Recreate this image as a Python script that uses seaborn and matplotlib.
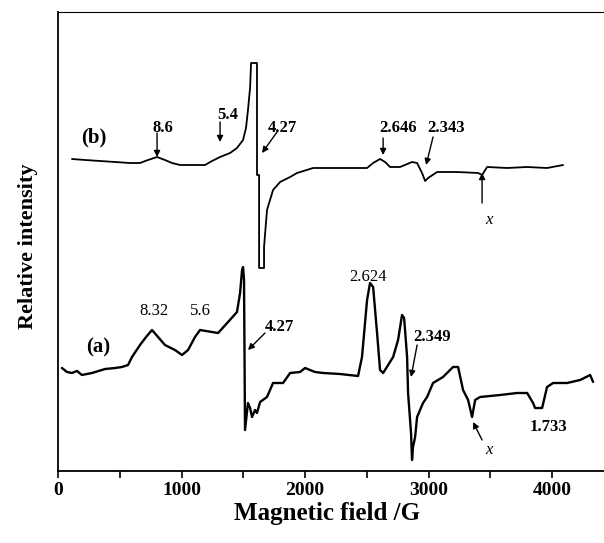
import numpy as np
import pandas as pd
import matplotlib
matplotlib.use("Agg")
import matplotlib.pyplot as plt
import seaborn as sns

# Spectrum (b): field in G, relative intensity (arbitrary units)
field_b = [113, 219, 340, 462, 583, 664, 729, 802, 866, 923, 988, 1085, 1190,
           1247, 1312, 1393, 1449, 1498, 1522, 1538, 1555, 1563, 1611, 1611,
           1628, 1628, 1668, 1668, 1692, 1741, 1798, 1879, 1935, 2065, 2202,
           2364, 2502, 2551, 2607, 2648, 2688, 2769, 2866, 2907, 2947, 2972,
           2996, 3069, 3231, 3401, 3433, 3474, 3636, 3797, 3959, 4089]
inten_b = [312, 311, 310, 309, 308, 308, 311, 314, 311, 308, 306, 306, 306,
           310, 314, 318, 323, 331, 343, 361, 383, 408, 408, 296,
           296, 203, 203, 224, 261, 281, 289, 294, 298, 303, 303,
           303, 303, 308, 312, 309, 304, 304, 309, 308, 298, 290,
           293, 299, 299, 298, 296, 304, 303, 304, 303, 306]

# Spectrum (a)
field_a = [32, 73, 113, 154, 194, 275, 381, 462, 518, 567, 599, 664, 713, 761,
           810, 866, 947, 1004, 1053, 1109, 1150, 1198, 1247, 1296, 1377, 1449,
           1474, 1490, 1498, 1506, 1514, 1538, 1555, 1571, 1595, 1611, 1636,
           1692, 1741, 1822, 1879, 1960, 2000, 2081, 2146, 2283, 2429, 2461,
           2502, 2526, 2551, 2583, 2607, 2632, 2713, 2753, 2785, 2802, 2826,
           2834, 2858, 2866, 2874, 2891, 2907, 2955, 2988, 3036, 3117, 3198,
           3239, 3279, 3320, 3352, 3377, 3417, 3498, 3579, 3717, 3798, 3846,
           3862, 3919, 3959, 4008, 4121, 4227, 4308, 4332]
inten_a = [103, 99, 98, 100, 96, 98, 102, 103, 104, 106, 114, 126, 134, 141,
           134, 126, 121, 116, 121, 134, 141, 140, 139, 138, 149, 159,
           178, 201, 204, 191, 41, 68, 63, 54, 61, 58, 69,
           74, 88, 88, 98, 99, 103, 99, 98, 97, 95, 114,
           171, 188, 184, 138, 101, 98, 114, 131, 156, 153, 114,
           78, 38, 11, 24, 34, 54, 68, 74, 88, 94, 104,
           104, 81, 71, 54, 71, 74, 75, 76, 78, 78, 68,
           63, 63, 84, 88, 88, 91, 96, 89]

# Peak labels
labels_b = ["8.6", "5.4", "4.27", "2.646", "2.343", "x"]
labels_a = ["8.32", "5.6", "4.27", "2.624", "2.349", "x", "1.733"]

df_a = pd.DataFrame({"field": field_a, "intensity": inten_a})
df_b = pd.DataFrame({"field": field_b, "intensity": inten_b})

sns.set_style("ticks")
plt.rcParams["font.family"] = ["Liberation Serif", "DejaVu Serif"]
plt.rcParams["text.color"] = "black"
plt.rcParams["axes.labelcolor"] = "black"
plt.rcParams["xtick.color"] = "black"
plt.rcParams["axes.edgecolor"] = "black"

fig = plt.figure(figsize=(6.04, 5.43), dpi=100)
ax = fig.add_axes([0.096, 0.1326, 0.904, 0.8453])

sns.lineplot(data=df_b, x="field", y="intensity", sort=False, estimator=None,
             color="black", linewidth=1.3, ax=ax)
sns.lineplot(data=df_a, x="field", y="intensity", sort=False, estimator=None,
             color="black", linewidth=1.7, ax=ax)

ax.set_xlim(0, 4420)
ax.set_ylim(0, 459)
ax.set_xticks([0, 1000, 2000, 3000, 4000])
ax.set_xticks([500, 1500, 2500, 3500], minor=True)
ax.set_yticks([])
ax.tick_params(axis="x", which="both", direction="out", length=5, width=1.2,
               pad=3, labelsize=14, colors="black")
for t in ax.get_xticklabels():
    t.set_fontweight("bold")

ax.spines["right"].set_visible(False)
ax.spines["top"].set_linewidth(0.8)
ax.spines["left"].set_linewidth(1.3)
ax.spines["bottom"].set_linewidth(1.3)

ax.set_xlabel("Magnetic field /G", fontsize=18, fontweight="bold")
ax.set_ylabel("Relative intensity", fontsize=16, fontweight="bold")
ax.xaxis.set_label_coords(0.493, -0.068)
ax.yaxis.label.set_va("bottom")
ax.yaxis.set_label_coords(-0.037, 0.49)

ax.text(291, 334, "(b)", fontsize=15, fontweight="bold", ha="center", va="center")
ax.text(324, 124, "(a)", fontsize=15, fontweight="bold", ha="center", va="center")

arrow = dict(arrowstyle="-|>", color="black", lw=1.0, mutation_scale=9,
             shrinkA=0, shrinkB=0)

text_pos_b = [(850, 343), (1376, 356), (1814, 343), (2753, 343), (3142, 343), (3490, 251)]
tails_b = [(802, 338), (1312, 349), (1773, 339), (2632, 333), (3036, 334), (3433, 268)]
heads_b = [(802, 314), (1312, 329), (1652, 318), (2632, 316), (2980, 306), (3433, 298)]
for lab, (tx, ty), tail, head in zip(labels_b, text_pos_b, tails_b, heads_b):
    style = "italic" if lab == "x" else "normal"
    weight = "normal" if lab == "x" else "bold"
    ax.text(tx, ty, lab, fontsize=12, fontweight=weight, fontstyle=style,
            ha="center", va="center")
    ax.annotate("", xy=head, xytext=tail, arrowprops=arrow)

text_pos_a = [(777, 160), (1150, 160), (1789, 144), (2510, 194), (3028, 134),
              (3490, 21), (3967, 44)]
weights_a = ["normal", "normal", "bold", "normal", "bold", "normal", "bold"]
for lab, (tx, ty), w in zip(labels_a, text_pos_a, weights_a):
    style = "italic" if lab == "x" else "normal"
    ax.text(tx, ty, lab, fontsize=12, fontweight=w, fontstyle=style,
            ha="center", va="center")

ax.annotate("", xy=(1538, 121), xytext=(1676, 138), arrowprops=arrow)
ax.annotate("", xy=(2858, 94), xytext=(2907, 126), arrowprops=arrow)
ax.annotate("", xy=(3360, 49), xytext=(3433, 31), arrowprops=arrow)

fig.savefig("out.png", dpi=100)
